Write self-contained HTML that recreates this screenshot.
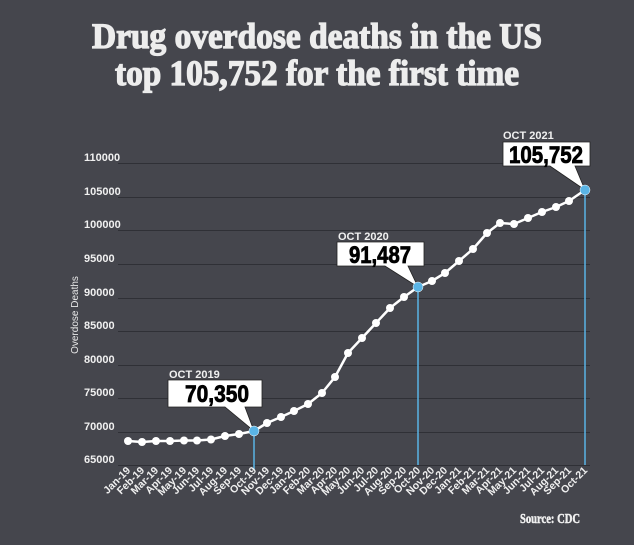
<!DOCTYPE html>
<html><head><meta charset="utf-8"><style>
html,body{margin:0;padding:0;background:#45464d;}
svg{display:block;}
</style></head><body>
<svg width="634" height="545" viewBox="0 0 634 545" xmlns="http://www.w3.org/2000/svg">
<rect width="634" height="545" fill="#45464d"/>
<g font-family="Liberation Serif, serif" font-weight="bold" fill="#ededed" stroke="#ededed" stroke-width="1.3" text-anchor="middle">
<text x="317" y="48" font-size="36" textLength="450" lengthAdjust="spacingAndGlyphs">Drug overdose deaths in the US</text>
<text x="317" y="85" font-size="36" textLength="404" lengthAdjust="spacingAndGlyphs">top 105,752 for the first time</text>
</g>
<g stroke="#2f3036" stroke-width="1">
<line x1="118" y1="163.5" x2="590" y2="163.5"/>
<line x1="118" y1="197.5" x2="590" y2="197.5"/>
<line x1="118" y1="230.5" x2="590" y2="230.5"/>
<line x1="118" y1="264.5" x2="590" y2="264.5"/>
<line x1="118" y1="298.5" x2="590" y2="298.5"/>
<line x1="118" y1="331.5" x2="590" y2="331.5"/>
<line x1="118" y1="365.5" x2="590" y2="365.5"/>
<line x1="118" y1="398.5" x2="590" y2="398.5"/>
<line x1="118" y1="432.5" x2="590" y2="432.5"/>
<line x1="118" y1="465.5" x2="590" y2="465.5"/>
</g>
<g font-family="Liberation Sans, sans-serif" font-weight="bold" font-size="11" fill="#f0f0f0">
<text x="84" y="161">110000</text>
<text x="84" y="195">105000</text>
<text x="84" y="228">100000</text>
<text x="84" y="262">95000</text>
<text x="84" y="296">90000</text>
<text x="84" y="329">85000</text>
<text x="84" y="363">80000</text>
<text x="84" y="396">75000</text>
<text x="84" y="430">70000</text>
<text x="84" y="463">65000</text>
</g>
<text x="0" y="0" transform="translate(78,315) rotate(-90)" text-anchor="middle" font-family="Liberation Sans, sans-serif" font-size="10" fill="#e8e8e8">Overdose Deaths</text>
<g stroke="#5ab4e5" stroke-width="1.5">
<line x1="254" y1="431" x2="254" y2="470"/>
<line x1="418" y1="287" x2="418" y2="465"/>
<line x1="585" y1="190" x2="585" y2="465"/>
</g>
<polyline fill="none" stroke="#fff" stroke-width="2.5" stroke-linejoin="round" points="128,441 142,442 156,441 170,441 184,440.5 197,440.5 211,439.5 225,436 239,434 254,431 267,423 281,417 294,411 308,404 322,393 335,377 348,353 362,338 376,323 390,308 404,297 418,287 432,281 445,273 459,261 473,249 487,233 500,223 514,224 528,218 542,212 556,207 569,201 585,190"/>
<g fill="#fff">
<circle cx="128" cy="441" r="4"/><circle cx="142" cy="442" r="4"/><circle cx="156" cy="441" r="4"/><circle cx="170" cy="441" r="4"/><circle cx="184" cy="440.5" r="4"/><circle cx="197" cy="440.5" r="4"/><circle cx="211" cy="439.5" r="4"/><circle cx="225" cy="436" r="4"/><circle cx="239" cy="434" r="4"/><circle cx="267" cy="423" r="4"/><circle cx="281" cy="417" r="4"/><circle cx="294" cy="411" r="4"/><circle cx="308" cy="404" r="4"/><circle cx="322" cy="393" r="4"/><circle cx="335" cy="377" r="4"/><circle cx="348" cy="353" r="4"/><circle cx="362" cy="338" r="4"/><circle cx="376" cy="323" r="4"/><circle cx="390" cy="308" r="4"/><circle cx="404" cy="297" r="4"/><circle cx="432" cy="281" r="4"/><circle cx="445" cy="273" r="4"/><circle cx="459" cy="261" r="4"/><circle cx="473" cy="249" r="4"/><circle cx="487" cy="233" r="4"/><circle cx="500" cy="223" r="4"/><circle cx="514" cy="224" r="4"/><circle cx="528" cy="218" r="4"/><circle cx="542" cy="212" r="4"/><circle cx="556" cy="207" r="4"/><circle cx="569" cy="201" r="4"/>
</g>
<g fill="#fff" stroke="#222" stroke-width="0.8">
<polygon points="168,380 262,380 262,407 245,407 254,431 225,407 168,407"/>
<polygon points="337,242 424,242 424,266 408,266 418,287 385,266 337,266"/>
<polygon points="503,142 590,142 590,166 575,166 585,190 550,166 503,166"/>
</g>
<g fill="#5ab4e5" stroke="#fff" stroke-width="0.5">
<circle cx="254" cy="431" r="5"/><circle cx="418" cy="287" r="5"/><circle cx="585" cy="190" r="5"/>
</g>
<g font-family="Liberation Sans, sans-serif" font-weight="bold" font-size="11" fill="#f0f0f0">
<text x="169" y="378">OCT 2019</text>
<text x="338" y="240">OCT 2020</text>
<text x="503" y="139">OCT 2021</text>
</g>
<g font-family="Liberation Sans, sans-serif" font-weight="bold" font-size="24" fill="#000" stroke="#000" stroke-width="0.8" text-anchor="middle">
<text x="217" y="402" textLength="64" lengthAdjust="spacingAndGlyphs">70,350</text>
<text x="380" y="263" textLength="62" lengthAdjust="spacingAndGlyphs">91,487</text>
<text x="546" y="163" textLength="74" lengthAdjust="spacingAndGlyphs">105,752</text>
</g>
<g font-family="Liberation Sans, sans-serif" font-weight="bold" font-size="10.5" fill="#f0f0f0" text-anchor="end">
<text transform="translate(131,471) rotate(-45)">Jan-19</text>
<text transform="translate(145,471) rotate(-45)">Feb-19</text>
<text transform="translate(159,471) rotate(-45)">Mar-19</text>
<text transform="translate(173,471) rotate(-45)">Apr-19</text>
<text transform="translate(187,471) rotate(-45)">May-19</text>
<text transform="translate(200,471) rotate(-45)">Jun-19</text>
<text transform="translate(214,471) rotate(-45)">Jul-19</text>
<text transform="translate(228,471) rotate(-45)">Aug-19</text>
<text transform="translate(242,471) rotate(-45)">Sep-19</text>
<text transform="translate(257,471) rotate(-45)">Oct-19</text>
<text transform="translate(270,471) rotate(-45)">Nov-19</text>
<text transform="translate(284,471) rotate(-45)">Dec-19</text>
<text transform="translate(297,471) rotate(-45)">Jan-20</text>
<text transform="translate(311,471) rotate(-45)">Feb-20</text>
<text transform="translate(325,471) rotate(-45)">Mar-20</text>
<text transform="translate(338,471) rotate(-45)">Apr-20</text>
<text transform="translate(351,471) rotate(-45)">May-20</text>
<text transform="translate(365,471) rotate(-45)">Jun-20</text>
<text transform="translate(379,471) rotate(-45)">Jul-20</text>
<text transform="translate(393,471) rotate(-45)">Aug-20</text>
<text transform="translate(407,471) rotate(-45)">Sep-20</text>
<text transform="translate(421,471) rotate(-45)">Oct-20</text>
<text transform="translate(435,471) rotate(-45)">Nov-20</text>
<text transform="translate(448,471) rotate(-45)">Dec-20</text>
<text transform="translate(462,471) rotate(-45)">Jan-21</text>
<text transform="translate(476,471) rotate(-45)">Feb-21</text>
<text transform="translate(490,471) rotate(-45)">Mar-21</text>
<text transform="translate(503,471) rotate(-45)">Apr-21</text>
<text transform="translate(517,471) rotate(-45)">May-21</text>
<text transform="translate(531,471) rotate(-45)">Jun-21</text>
<text transform="translate(545,471) rotate(-45)">Jul-21</text>
<text transform="translate(559,471) rotate(-45)">Aug-21</text>
<text transform="translate(572,471) rotate(-45)">Sep-21</text>
<text transform="translate(588,471) rotate(-45)">Oct-21</text>
</g>
<text x="520" y="523" font-family="Liberation Serif, serif" font-weight="bold" font-size="14" fill="#f0f0f0" stroke="#f0f0f0" stroke-width="0.5" textLength="60" lengthAdjust="spacingAndGlyphs">Source: CDC</text>
</svg>
</body></html>
